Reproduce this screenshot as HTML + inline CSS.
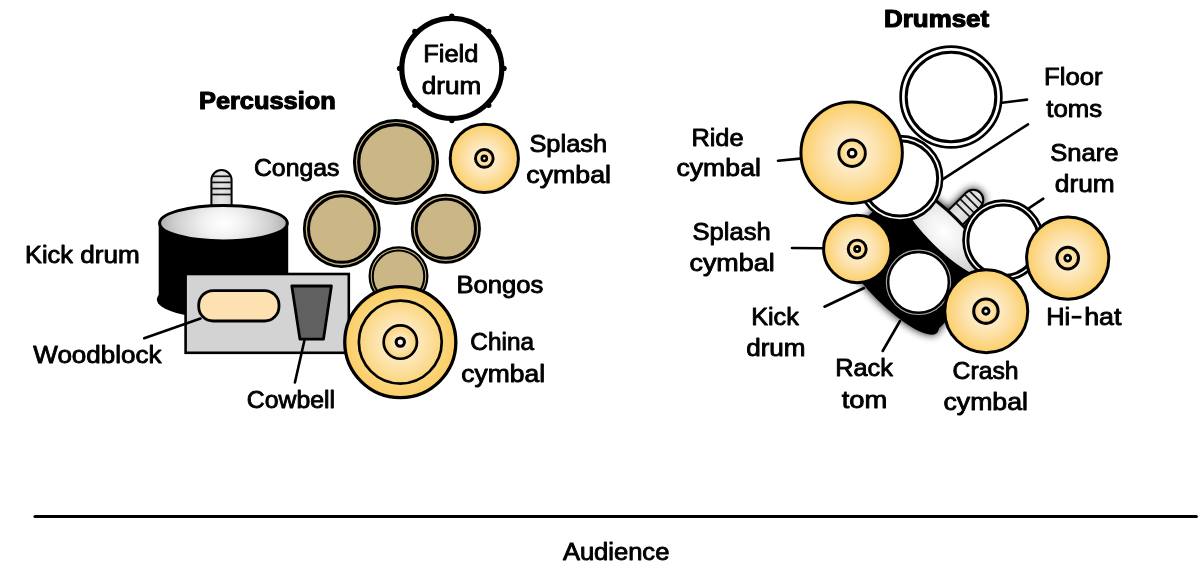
<!DOCTYPE html>
<html>
<head>
<meta charset="utf-8">
<title>Percussion and Drumset layout</title>
<style>
  html, body { margin: 0; padding: 0; background: #ffffff; }
  body { width: 1200px; height: 582px; overflow: hidden; font-family: "Liberation Sans", sans-serif; }
  svg { display: block; will-change: transform; }
  text { font-family: "Liberation Sans", sans-serif; fill: #000; }
  .r { font-size: 24.8px; stroke: #000; stroke-width: 0.9px; stroke-linejoin: round; }
  .b { font-size: 23.6px; font-weight: bold; stroke: #000; stroke-width: 1.15px; stroke-linejoin: round; }
  .ld { stroke: #000; stroke-width: 2.6; stroke-linecap: round; fill: none; }
</style>
</head>
<body>
<svg width="1200" height="582" viewBox="0 0 1200 582">
  <defs>
    <radialGradient id="cym" cx="50%" cy="50%" r="50%">
      <stop offset="0" stop-color="#fef0d4"/>
      <stop offset="0.3" stop-color="#fdebc8"/>
      <stop offset="0.65" stop-color="#fcdd9c"/>
      <stop offset="1" stop-color="#fccf68"/>
    </radialGradient>
    <radialGradient id="china" cx="50%" cy="50%" r="50%">
      <stop offset="0" stop-color="#fef0d2"/>
      <stop offset="0.35" stop-color="#fde7b8"/>
      <stop offset="0.72" stop-color="#fbd782"/>
      <stop offset="1" stop-color="#fbcd63"/>
    </radialGradient>
    <radialGradient id="bell" cx="50%" cy="50%" r="50%">
      <stop offset="0" stop-color="#fef1d6"/>
      <stop offset="0.5" stop-color="#fde5b0"/>
      <stop offset="1" stop-color="#fbd272"/>
    </radialGradient>
    <radialGradient id="head" cx="50%" cy="50%" r="50%" gradientTransform="translate(0 -0.75) scale(1 2.5)">
      <stop offset="0" stop-color="#ffffff"/>
      <stop offset="0.3" stop-color="#f2f2f2"/>
      <stop offset="0.75" stop-color="#cfcfcf"/>
      <stop offset="1" stop-color="#b0b0b0"/>
    </radialGradient>
    <linearGradient id="beat" x1="0" y1="0" x2="1" y2="0">
      <stop offset="0" stop-color="#d2d2d2"/>
      <stop offset="0.5" stop-color="#e6e6e6"/>
      <stop offset="1" stop-color="#d2d2d2"/>
    </linearGradient>
    <filter id="blur" x="-30%" y="-30%" width="160%" height="160%">
      <feGaussianBlur stdDeviation="4.5"/>
    </filter>

    <!-- kick drum, origin = centre of the top head ellipse -->
    <g id="kickshape">
      <rect x="-64.75" y="0" width="129.5" height="76.35" fill="#000"/>
      <ellipse cx="0" cy="76.35" rx="66.6" ry="19" fill="#000"/>
      <ellipse cx="0" cy="0" rx="65.35" ry="19.25" fill="#000"/>
      <path d="M-13.05 -10 L-13.05 -43.05 A11.1 11.1 0 0 1 9.15 -43.05 L9.15 -10 Z" fill="#000"/>
    </g>
    <g id="kick">
      <path d="M-12.05 -10 L-12.05 -43.05 A10.1 10.1 0 0 1 8.15 -43.05 L8.15 -10 Z" fill="url(#beat)" stroke="#000" stroke-width="2"/>
      <g stroke="#111" stroke-width="1.7">
        <line x1="-11" y1="-46.85" x2="7.1" y2="-46.85"/>
        <line x1="-12" y1="-40.75" x2="8.1" y2="-40.75"/>
        <line x1="-12" y1="-34.55" x2="8.1" y2="-34.55"/>
        <line x1="-12" y1="-28.65" x2="8.1" y2="-28.65"/>
      </g>
      <rect x="-64.75" y="0" width="129.5" height="76.35" fill="#000"/>
      <ellipse cx="0" cy="76.35" rx="66.6" ry="19" fill="#000"/>
      <ellipse cx="0" cy="0" rx="63.85" ry="17.75" fill="url(#head)" stroke="#000" stroke-width="3"/>
    </g>

    <!-- cymbal unit radius 1 is drawn per instance -->
  </defs>

  <rect x="0" y="0" width="1200" height="582" fill="#ffffff"/>

  <!-- ================= PERCUSSION (left) ================= -->

  <!-- Field drum -->
  <g>
    <circle cx="451.8" cy="68.4" r="50" fill="#fff" stroke="#000" stroke-width="5.2"/>
    <g fill="#000">
      <circle cx="504.0" cy="68.4" r="2.7"/>
      <circle cx="488.7" cy="105.3" r="2.7"/>
      <circle cx="451.8" cy="120.6" r="2.7"/>
      <circle cx="414.9" cy="105.3" r="2.7"/>
      <circle cx="399.6" cy="68.4" r="2.7"/>
      <circle cx="414.9" cy="31.5" r="2.7"/>
      <circle cx="451.8" cy="16.2" r="2.7"/>
      <circle cx="488.7" cy="31.5" r="2.7"/>
    </g>
  </g>

  <!-- Kick drum (left) -->
  <use href="#kick" transform="translate(223.45 223.15)"/>

  <!-- Congas / bongos -->
  <g fill="#cbb785" stroke="#000">
    <circle cx="396" cy="162" r="41.6" stroke-width="3"/>
    <circle cx="396" cy="162" r="37.3" stroke-width="3.2"/>
    <circle cx="341.8" cy="229.05" r="37.5" stroke-width="2.8"/>
    <circle cx="341.8" cy="229.05" r="33.3" stroke-width="3"/>
    <circle cx="445.85" cy="228.7" r="33.7" stroke-width="2.75"/>
    <circle cx="445.85" cy="228.7" r="29.6" stroke-width="2.9"/>
    <circle cx="398.5" cy="276.15" r="28.87" stroke-width="2.2"/>
    <circle cx="398.5" cy="276.15" r="25.75" stroke-width="2"/>
  </g>

  <!-- Splash cymbal (left) -->
  <g>
    <circle cx="484.3" cy="158.4" r="34.1" fill="url(#cym)" stroke="#000" stroke-width="3"/>
    <circle cx="484.3" cy="158.4" r="8.85" fill="url(#bell)" stroke="#000" stroke-width="2.9"/>
    <circle cx="484.3" cy="158.4" r="2.5" fill="#fff1cf" stroke="#000" stroke-width="2.6"/>
  </g>

  <!-- Tray with woodblock and cowbell -->
  <rect x="185.6" y="274" width="163.2" height="78.8" fill="#d3d3d3" stroke="#000" stroke-width="2.6"/>
  <rect x="198.7" y="290.6" width="80.3" height="30.4" rx="14.5" ry="14.5" fill="#fde1b0" stroke="#000" stroke-width="2.8"/>
  <path d="M291.8 286 L331.4 286 L323.5 339.1 L299.9 339.1 Z" fill="#606060" stroke="#000" stroke-width="2.8" stroke-linejoin="round"/>
  <line class="ld" x1="144.2" y1="338.2" x2="200.5" y2="318.6"/>
  <line class="ld" x1="304.3" y1="341" x2="294.9" y2="382.5"/>

  <!-- China cymbal -->
  <g>
    <circle cx="400.3" cy="342.1" r="55.55" fill="url(#china)" stroke="#000" stroke-width="3.3"/>
    <circle cx="400.3" cy="342.1" r="41.45" fill="none" stroke="#000" stroke-width="2.7"/>
    <circle cx="400.3" cy="342.1" r="16.65" fill="url(#bell)" stroke="#000" stroke-width="2.7"/>
    <circle cx="400.3" cy="342.1" r="4.15" fill="#fff7e6" stroke="#000" stroke-width="3.1"/>
  </g>

  <!-- ================= DRUMSET (right) ================= -->

  <!-- leader lines that sit under shapes -->
  <line class="ld" x1="1002" y1="102.7" x2="1027" y2="99.6"/>
  <line class="ld" x1="943" y1="179.2" x2="1028" y2="124.3"/>
  <line class="ld" x1="778" y1="160.7" x2="800" y2="158.6"/>
  <line class="ld" x1="792" y1="248" x2="822" y2="248.3"/>
  <line class="ld" x1="1029" y1="208.2" x2="1043.3" y2="198.6"/>

  <!-- Kick drum (right), rotated, with soft shadow -->
  <g transform="translate(944.1 231.7) rotate(45)">
    <use href="#kickshape" filter="url(#blur)" opacity="0.95"/>
    <use href="#kick"/>
  </g>
  <line class="ld" x1="824.5" y1="306.7" x2="864" y2="288"/>
  <line class="ld" x1="882.7" y1="351" x2="900" y2="321"/>

  <!-- Floor tom 2 (lower, behind) -->
  <g fill="#fff" stroke="#000">
    <circle cx="899.95" cy="178.35" r="42.25" stroke-width="2.6"/>
    <circle cx="899.95" cy="178.35" r="37.7" stroke-width="3"/>
  </g>
  <!-- Floor tom 1 -->
  <g fill="#fff" stroke="#000">
    <circle cx="951" cy="97" r="50.35" stroke-width="2.7"/>
    <circle cx="951" cy="97" r="44.8" stroke-width="3"/>
  </g>
  <!-- Snare drum -->
  <g fill="#fff" stroke="#000">
    <circle cx="1003.2" cy="240.2" r="39.65" stroke-width="2.7"/>
    <circle cx="1003.2" cy="240.2" r="35.3" stroke-width="3"/>
  </g>
  <!-- Rack tom -->
  <g fill="#fff" stroke="#000">
    <circle cx="918.5" cy="282.3" r="34" stroke-width="2.6" fill="#a8a8a8"/>
    <circle cx="918.5" cy="282.3" r="30.35" stroke-width="2.5"/>
  </g>

  <!-- Ride cymbal -->
  <g>
    <circle cx="851.65" cy="152.7" r="50.7" fill="url(#cym)" stroke="#000" stroke-width="3"/>
    <circle cx="852.1" cy="153.2" r="13.25" fill="url(#bell)" stroke="#000" stroke-width="2.9"/>
    <circle cx="852.1" cy="153.2" r="3.9" fill="#fbf8ea" stroke="#000" stroke-width="3"/>
  </g>
  <!-- Splash cymbal (right) -->
  <g>
    <circle cx="857.3" cy="248.95" r="33.7" fill="url(#cym)" stroke="#000" stroke-width="3"/>
    <circle cx="857.2" cy="249.1" r="9.0" fill="url(#bell)" stroke="#000" stroke-width="2.9"/>
    <circle cx="857.2" cy="249.1" r="2.6" fill="#fff1cf" stroke="#000" stroke-width="2.8"/>
  </g>
  <!-- Hi-hat -->
  <g>
    <circle cx="1067.7" cy="258.05" r="41.1" fill="url(#cym)" stroke="#000" stroke-width="3"/>
    <circle cx="1067.7" cy="258.1" r="10.8" fill="url(#bell)" stroke="#000" stroke-width="3"/>
    <circle cx="1067.7" cy="258.1" r="2.95" fill="#fbf8ea" stroke="#000" stroke-width="2.8"/>
  </g>
  <!-- Crash cymbal -->
  <g>
    <circle cx="986.25" cy="311.2" r="41.5" fill="url(#cym)" stroke="#000" stroke-width="3"/>
    <circle cx="985.9" cy="311.15" r="12.2" fill="url(#bell)" stroke="#000" stroke-width="3.1"/>
    <circle cx="985.9" cy="311.15" r="3.1" fill="#fbf8ea" stroke="#000" stroke-width="2.9"/>
  </g>

  <!-- ================= Audience line ================= -->
  <line x1="35" y1="516.5" x2="1196.3" y2="516.5" stroke="#000" stroke-width="3.2" stroke-linecap="round"/>

  <!-- ================= Labels ================= -->
  <line x1="1071.7" y1="317.2" x2="1081.4" y2="317.2" stroke="#000" stroke-width="2.7"/>
  <text class="b" x="198.98" y="109.35" textLength="136.73" lengthAdjust="spacingAndGlyphs">Percussion</text>
  <text class="b" x="884.09" y="26.85" textLength="104.96" lengthAdjust="spacingAndGlyphs">Drumset</text>
  <text class="r" x="423.22" y="62.25" textLength="55.09" lengthAdjust="spacingAndGlyphs">Field</text>
  <text class="r" x="421.78" y="94.35" textLength="59.51" lengthAdjust="spacingAndGlyphs">drum</text>
  <text class="r" x="253.94" y="176.35" textLength="85.57" lengthAdjust="spacingAndGlyphs">Congas</text>
  <text class="r" x="529.43" y="151.65" textLength="77.66" lengthAdjust="spacingAndGlyphs">Splash</text>
  <text class="r" x="526.28" y="182.55" textLength="84.79" lengthAdjust="spacingAndGlyphs">cymbal</text>
  <text class="r" x="25.06" y="263.35" textLength="47.93" lengthAdjust="spacingAndGlyphs">Kick</text>
  <text class="r" x="80.28" y="263.35" textLength="59.51" lengthAdjust="spacingAndGlyphs">drum</text>
  <text class="r" x="33.35" y="363.15" textLength="128.05" lengthAdjust="spacingAndGlyphs">Woodblock</text>
  <text class="r" x="246.83" y="407.85" textLength="88.15" lengthAdjust="spacingAndGlyphs">Cowbell</text>
  <text class="r" x="456.46" y="293.45" textLength="86.85" lengthAdjust="spacingAndGlyphs">Bongos</text>
  <text class="r" x="470.35" y="350.35" textLength="63.65" lengthAdjust="spacingAndGlyphs">China</text>
  <text class="r" x="461.28" y="381.95" textLength="83.79" lengthAdjust="spacingAndGlyphs">cymbal</text>
  <text class="r" x="1044.05" y="85.45" textLength="58.65" lengthAdjust="spacingAndGlyphs">Floor</text>
  <text class="r" x="1046.30" y="117.15" textLength="55.90" lengthAdjust="spacingAndGlyphs">toms</text>
  <text class="r" x="1050.23" y="161.15" textLength="68.33" lengthAdjust="spacingAndGlyphs">Snare</text>
  <text class="r" x="1054.78" y="192.05" textLength="59.91" lengthAdjust="spacingAndGlyphs">drum</text>
  <text class="r" x="691.43" y="145.55" textLength="52.15" lengthAdjust="spacingAndGlyphs">Ride</text>
  <text class="r" x="676.48" y="176.05" textLength="84.40" lengthAdjust="spacingAndGlyphs">cymbal</text>
  <text class="r" x="692.53" y="239.95" textLength="78.35" lengthAdjust="spacingAndGlyphs">Splash</text>
  <text class="r" x="689.44" y="271.35" textLength="85.25" lengthAdjust="spacingAndGlyphs">cymbal</text>
  <text class="r" x="751.16" y="324.55" textLength="47.63" lengthAdjust="spacingAndGlyphs">Kick</text>
  <text class="r" x="746.18" y="355.55" textLength="59.41" lengthAdjust="spacingAndGlyphs">drum</text>
  <text class="r" x="835.17" y="376.25" textLength="57.62" lengthAdjust="spacingAndGlyphs">Rack</text>
  <text class="r" x="841.71" y="407.85" textLength="45.58" lengthAdjust="spacingAndGlyphs">tom</text>
  <text class="r" x="952.53" y="378.55" textLength="66.06" lengthAdjust="spacingAndGlyphs">Crash</text>
  <text class="r" x="943.48" y="409.55" textLength="84.49" lengthAdjust="spacingAndGlyphs">cymbal</text>
  <text class="r" x="1046.22" y="324.65" textLength="23.95" lengthAdjust="spacingAndGlyphs">Hi</text>
  <text class="r" x="1084.21" y="324.65" textLength="37.23" lengthAdjust="spacingAndGlyphs">hat</text>
  <text class="r" x="562.90" y="560.15" textLength="106.45" lengthAdjust="spacingAndGlyphs">Audience</text>
</svg>
</body>
</html>
